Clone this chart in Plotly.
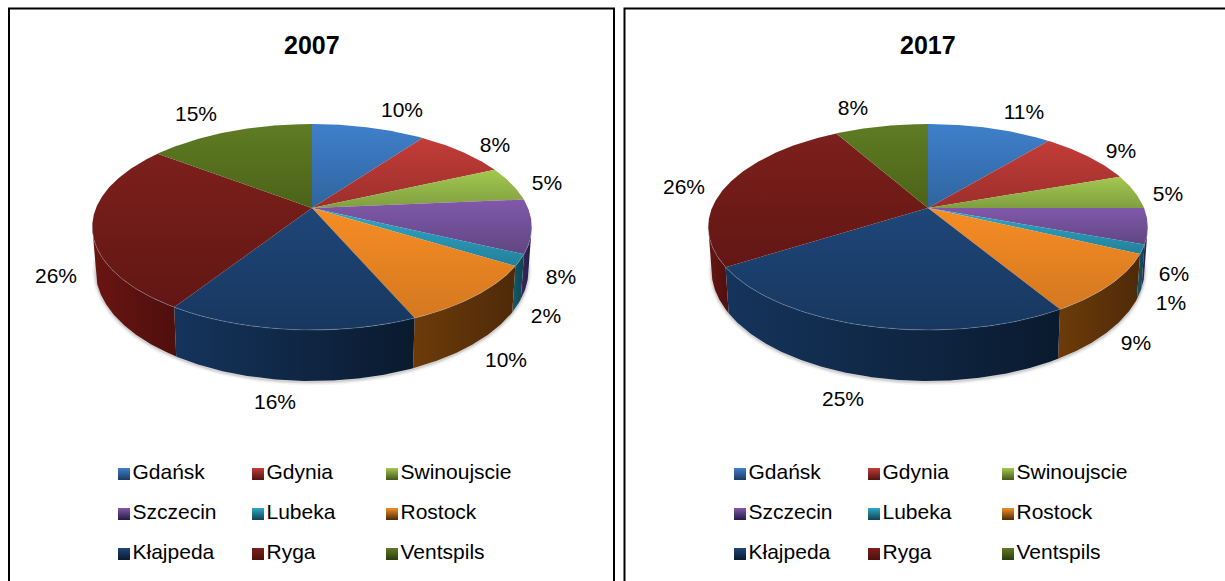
import numpy as np
import plotly.graph_objects as go

# ---- data ----
ports = ["Gdańsk", "Gdynia", "Swinoujscie", "Szczecin", "Lubeka", "Rostock", "Kłajpeda", "Ryga", "Ventspils"]
years = ["2007", "2017"]
share_2007 = [10.0, 8.2, 5.4, 8.4, 1.8, 9.7, 15.5, 26.3, 14.6]
share_2017 = [11.0, 8.6, 5.4, 5.6, 1.4, 9.4, 24.6, 25.8, 8.2]

# ---- styling ----
top_light = ["#3f7fcb", "#c33c38", "#a3c850", "#8258aa", "#2fa8c8", "#f68d24", "#1f4678", "#7c201c", "#5f7c24"]
top_dark = ["#2f659e", "#9c2f2c", "#7f9f40", "#5f4783", "#23809b", "#d47820", "#17375f", "#621614", "#4b6218"]
side_left = ["#23507f", "#6e1f1d", "#5a7028", "#3a2a60", "#155a6b", "#6d3b0a", "#15345c", "#6a1512", "#3c4f12"]
side_right = ["#1a3b60", "#4d1413", "#44551c", "#241a44", "#0f4250", "#4e2a08", "#0a1a2e", "#4e0f0d", "#2c3a0d"]
FONT = "Liberation Sans, Arial, sans-serif"

CX, CY = 312, 208      # apex of the pie in panel coordinates
A, B, K = 216, 99.5, 0.1845
DEPTH = 41.6
BOTTOM_SCALE = 0.985
VIS_FROM, VIS_TO = 100.6, 259.4

label_xy = {
    "2007": ([402, 495, 547, 561, 546, 506, 275, 56, 196], [112, 147, 185, 279, 318, 362, 404, 278, 116]),
    "2017": ([408, 505, 552, 558, 555, 520, 227, 68, 237], [114, 153, 196, 276, 305, 345, 401, 189, 110]),
}
legend_x = [124, 258, 392]
legend_y = [474, 514, 554]
OFFSET = 616


def top_pt(deg):
    t = np.radians(deg)
    u, v = np.sin(t), np.cos(t)
    w = 1 + K * v
    return CX + A * u / w, CY - B * v / w


def bottom_pt(deg):
    t = np.radians(deg)
    u, v = np.sin(t), np.cos(t)
    w = 1 + K * v
    return CX + BOTTOM_SCALE * A * u / w, CY - B * v / w + DEPTH / w


def arc(a, b):
    return np.linspace(a, b, max(3, int(abs(b - a)) * 2 + 2))


fig = go.Figure()


def add_pie(shares, year, xa, ya):
    common = dict(xaxis=xa, yaxis=ya, hoverinfo="skip", showlegend=False)
    edges = np.cumsum([0] + shares) / sum(shares) * 360

    # soft shadow under the silhouette
    ds = arc(VIS_FROM - 8, VIS_TO + 8)
    sx, sy = bottom_pt(ds)
    for width, alpha in ((7, 0.05), (4, 0.08), (2, 0.12)):
        fig.add_trace(go.Scatter(x=sx, y=sy + 1, mode="lines",
                                 line=dict(color=f"rgba(60,60,60,{alpha})", width=width), **common))

    # side wall
    for i, name in enumerate(ports):
        a, b = max(edges[i], VIS_FROM), min(edges[i + 1], VIS_TO)
        if b <= a:
            continue
        d = arc(a, b)
        tx, ty = top_pt(d)
        bx, by = bottom_pt(d[::-1])
        fig.add_trace(go.Scatter(
            x=np.r_[tx, bx, tx[0]], y=np.r_[ty, by, ty[0]], mode="lines", fill="toself",
            line=dict(width=0), name=name,
            fillgradient=dict(type="horizontal", colorscale=[[0, side_left[i]], [1, side_right[i]]]),
            **common))

    # top face
    for i, name in enumerate(ports):
        d = arc(edges[i], edges[i + 1])
        ax, ay = top_pt(d)
        fig.add_trace(go.Scatter(
            x=np.r_[CX, ax, CX], y=np.r_[CY, ay, CY], mode="lines", fill="toself",
            line=dict(width=0), name=name,
            fillgradient=dict(type="vertical", colorscale=[[0, top_dark[i]], [1, top_light[i]]]),
            **common))

    # rim highlight
    d = arc(VIS_FROM, VIS_TO)
    hx, hy = top_pt(d)
    fig.add_trace(go.Scatter(x=hx, y=hy, mode="lines",
                             line=dict(color="rgba(170,190,215,0.30)", width=1), **common))

    # percentage labels
    lx, ly = label_xy[year]
    fig.add_trace(go.Scatter(x=lx, y=ly, mode="text", text=[f"{v:.0f}%" for v in shares],
                             textposition="middle center",
                             textfont=dict(family=FONT, size=21, color="#000000"), **common))

    # legend
    mx = [legend_x[i % 3] for i in range(len(ports))]
    my = [legend_y[i // 3] for i in range(len(ports))]
    fig.add_trace(go.Scatter(
        x=mx, y=my, mode="markers+text", text=ports, textposition="middle right",
        textfont=dict(family=FONT, size=21, color="#000000"),
        marker=dict(symbol="square", size=12, color=top_light,
                    gradient=dict(type="vertical", color=side_right), line=dict(width=0)),
        **common))

    # chart title
    fig.add_annotation(x=CX, y=45, xref=xa, yref=ya, text=f"<b>{year}</b>", showarrow=False,
                       font=dict(family=FONT, size=25, color="#000000"))


add_pie(share_2007, years[0], "x", "y")
add_pie(share_2017, years[1], "x2", "y2")

axis = dict(visible=False, fixedrange=True)
fig.update_layout(
    width=1225, height=581, margin=dict(l=0, r=0, t=0, b=0, pad=0),
    paper_bgcolor="white", plot_bgcolor="rgba(0,0,0,0)", showlegend=False,
    xaxis=dict(range=[0, 612], domain=[0, 612 / 1225], **axis),
    yaxis=dict(range=[581, 0], domain=[0, 1], **axis),
    xaxis2=dict(range=[612 - OFFSET, 1225 - OFFSET], domain=[612 / 1225, 1], **axis),
    yaxis2=dict(range=[581, 0], domain=[0, 1], anchor="x2", **axis),
    shapes=[
        dict(type="rect", xref="paper", yref="paper", x0=9 / 1225, x1=614 / 1225, y0=-0.05, y1=1 - 8.5 / 581,
             line=dict(color="#000000", width=2), layer="below"),
        dict(type="rect", xref="paper", yref="paper", x0=624.5 / 1225, x1=1.05, y0=-0.05, y1=1 - 8.5 / 581,
             line=dict(color="#000000", width=2), layer="below"),
    ],
)

fig.write_html("out.html", config={"displayModeBar": False},
               post_script="document.body.style.margin='0';document.documentElement.style.overflow='hidden';")
